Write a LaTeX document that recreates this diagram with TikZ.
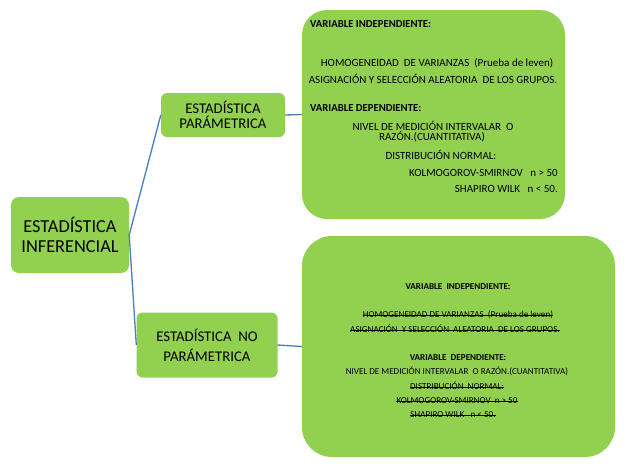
\documentclass[tikz,border=0pt]{standalone}
\usepackage{fontspec}
\setmainfont{Carlito}
\usetikzlibrary{positioning}
\definecolor{verdehoja}{HTML}{92D050}
\definecolor{azullinea}{HTML}{4A7EBB}

\begin{document}
\begin{tikzpicture}[x=1pt, y=-1pt,
  caja/.style={fill=verdehoja, rounded corners=6pt, align=center, inner sep=0pt},
  cajagrande/.style={fill=verdehoja, inner sep=0pt},
  linea/.style={draw=azullinea, line width=1.3pt},
  txt/.style={font=\fontsize{11}{12}\selectfont, inner sep=0pt},
  txtchico/.style={font=\fontsize{9.1}{10}\selectfont, inner sep=0pt}]
\useasboundingbox[fill=white] (0,0) rectangle (627,469);
% boxes of the tree
\node[caja, rounded corners=8pt, minimum width=118pt, minimum height=76pt,
  font=\fontsize{18.3}{20}\selectfont] (inf) at (70,235) {ESTADÍSTICA\\INFERENCIAL};
\node[caja, minimum width=124pt, minimum height=44pt,
  font=\fontsize{14.8}{15.5}\selectfont] (par) at (223,115) {ESTADÍSTICA\\PARÁMETRICA};
\node[caja, minimum width=141pt, minimum height=65pt,
  font=\fontsize{14.8}{20}\selectfont] (nopar) at (207,345) {ESTADÍSTICA\ \ NO\\PARÁMETRICA};
\node[cajagrande, rounded corners=25pt, minimum width=263pt, minimum height=209pt] (cpar) at (433.5,114.5) {};
\node[cajagrande, rounded corners=30pt, minimum width=313pt, minimum height=221pt] (cnopar) at (458.5,346.5) {};
% connectors
\draw[linea] (inf.east) -- (par.west);
\draw[linea] (inf.east) -- (nopar.west);
\draw[linea] (par.east) -- (cpar.west);
\draw[linea] (nopar.east) -- (cnopar.west);
% text of the parametric box
\node[txt, anchor=base west, font=\fontsize{10.7}{12}\bfseries] (pvi) at (310,27.5) {VARIABLE INDEPENDIENTE:};
\node[txt, anchor=base] (phom) at (437,66.5) {HOMOGENEIDAD\ \ DE VARIANZAS\ \ (Prueba de leven)};
\node[txt, anchor=base] (pasi) at (433,83.5) {ASIGNACIÓN Y SELECCIÓN ALEATORIA\ \ DE LOS GRUPOS.};
\node[txt, anchor=base west, font=\fontsize{10.7}{12}\bfseries] (pvd) at (310,111.5) {VARIABLE DEPENDIENTE:};
\node[txt, anchor=base] (pniv) at (433,130.5) {NIVEL DE MEDICIÓN INTERVALAR\ \ O};
\node[txt, anchor=base] (praz) at (432,140.8) {RAZÓN.(CUANTITATIVA)};
\node[txt, anchor=base] (pdis) at (441,159.2) {DISTRIBUCIÓN NORMAL:};
\node[txt, anchor=base east] (pkol) at (558,176.2) {KOLMOGOROV-SMIRNOV\ \ \ n > 50};
\node[txt, anchor=base east] (psha) at (558,192.5) {SHAPIRO WILK\ \ \ n < 50.};
% text of the non parametric box
\node[txtchico, anchor=base, font=\fontsize{9.1}{10}\bfseries] (nvi) at (458,289.7) {VARIABLE\ \ INDEPENDIENTE:};
\node[txtchico, anchor=base] (nhom) at (458,317.7) {HOMOGENEIDAD DE VARIANZAS\ \ (Prueba de leven)};
\node[txtchico, anchor=base] (nasi) at (455,332.7) {ASIGNACIÓN\ \ Y SELECCIÓN\ \ ALEATORIA\ \ DE LOS GRUPOS.};
\node[txtchico, anchor=base, font=\fontsize{9.1}{10}\bfseries] (nvd) at (458,360.7) {VARIABLE\ \ DEPENDIENTE:};
\node[txtchico, anchor=base] (nniv) at (457,374.7) {NIVEL DE MEDICIÓN INTERVALAR\ \ O RAZÓN.(CUANTITATIVA)};
\node[txtchico, anchor=base] (ndis) at (457,389.7) {DISTRIBUCIÓN\ \ NORMAL:};
\node[txtchico, anchor=base] (nkol) at (457,403.7) {KOLMOGOROV-SMIRNOV\ \ n > 50};
\node[txtchico, anchor=base] (nsha) at (453,417.7) {SHAPIRO WILK\ \ \ n < 50.};
% struck-through lines
\foreach \n in {nhom,nasi,ndis,nkol,nsha}
  \draw[line width=0.6pt] ([yshift=2.8pt]\n.base west) -- ([yshift=2.8pt]\n.base east);
\end{tikzpicture}
\end{document}
